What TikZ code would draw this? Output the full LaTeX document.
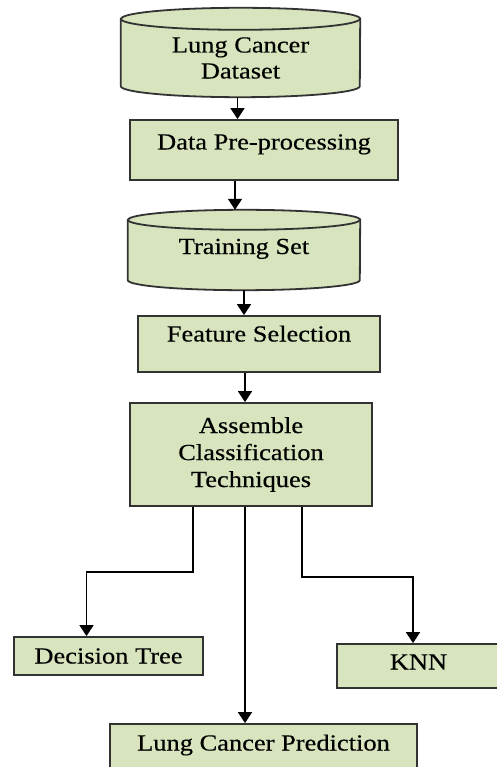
\documentclass[tikz,border=0pt]{standalone}
\usepackage{fontspec}
\setmainfont{Liberation Serif}[FakeStretch=1.15, FakeBold=0.4]
\usetikzlibrary{arrows.meta, backgrounds}

\definecolor{boxgreen}{RGB}{215,228,189}
\definecolor{edgegray}{RGB}{50,50,50}

\tikzset{
  box/.style={draw=edgegray, line width=1.8pt, fill=boxgreen, inner sep=0pt,
    align=center, font=\fontsize{23}{27}\selectfont},
  cyl/.style={inner sep=0pt, align=center, font=\fontsize{23}{26}\selectfont},
  cylline/.style={draw=edgegray, line width=1.8pt, fill=boxgreen},
  arr/.style={line width=1.5pt, -{Triangle[width=14pt,length=11pt]}}
}

\begin{document}
\begin{tikzpicture}[x=1pt, y=1pt]
        \useasboundingbox (0,0) rectangle (496,-767);

        % Data stores
        \node[cyl, minimum width=239pt, minimum height=78pt] (ds) at (240.5,-58) {Lung Cancer\\Dataset};
        \node[cyl, minimum width=232pt, minimum height=70pt, text height=16pt, text depth=18pt] (train) at (244,-255) {Training Set};

        % Draw the cylinders behind the text
        \begin{scope}[on background layer]
        \foreach \c/\w/\r in {ds/119.5/11, train/116/10} {
            \draw[cylline] (\c.north west) -- ([yshift=\r pt]\c.south west)
                arc[start angle=180, end angle=360, x radius=\w pt, y radius=\r pt]
                -- (\c.north east)
                arc[start angle=0, end angle=180, x radius=\w pt, y radius=\r pt] -- cycle;
            \draw[cylline, fill=none] (\c.north west)
                arc[start angle=180, end angle=360, x radius=\w pt, y radius=\r pt];
        }
        \end{scope}

        % Processing steps
        \node[box, minimum width=268pt, minimum height=60pt, text height=16pt, text depth=17pt] (prep) at (264,-150) {Data Pre-processing};
        \node[box, minimum width=242pt, minimum height=56pt, text height=16pt, text depth=21pt] (feat) at (259,-344) {Feature Selection};
        \node[box, minimum width=242pt, minimum height=103pt] (assm) at (251,-454.5) {Assemble\\Classification\\Techniques};

        % Classifiers and result
        \node[box, minimum width=189pt, minimum height=38pt] (dt) at (108.5,-656) {Decision Tree};
        \node[box, minimum width=163pt, minimum height=44pt, text height=15pt, text depth=8pt] (knn) at (418.5,-666) {KNN};
        \node[box, minimum width=307pt, minimum height=66pt, text height=16pt, text depth=29pt] (pred) at (263.5,-757) {Lung Cancer Prediction};

        % Arrows down the chain
        \draw[arr] ([xshift=-3pt]ds.south) -- ([xshift=-3pt]ds.south |- prep.north);
        \draw[arr] ([xshift=-9pt]train.north |- prep.south) -- ([xshift=-9pt,yshift=10pt]train.north);
        \draw[arr] (train.south) -- (train.south |- feat.north);
        \draw[arr] ([xshift=-14pt]feat.south) -- ([xshift=-14pt]feat.south |- assm.north);

        % Branches out of the classifier box
        \draw[arr] ([xshift=-58pt]assm.south) -- ++(0pt,-65pt) -| ([xshift=-22pt]dt.north);
        \draw[arr] ([xshift=-6pt]assm.south) -- ([xshift=-6pt]assm.south |- pred.north);
        \draw[arr] ([xshift=51pt]assm.south) -- ++(0pt,-70pt) -| ([xshift=-5.5pt]knn.north);
    \end{tikzpicture}
\end{document}
